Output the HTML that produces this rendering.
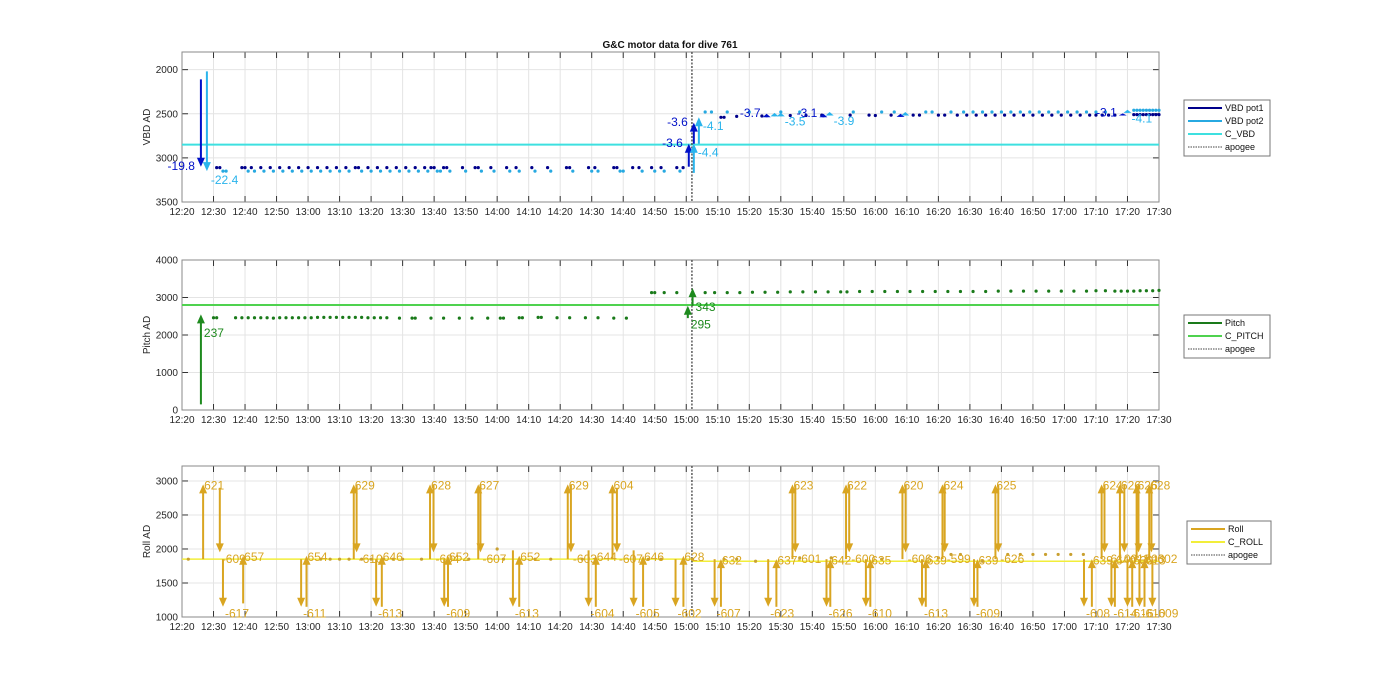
<!DOCTYPE html>
<html><head><meta charset="utf-8"><title>G&amp;C motor data for dive 761</title>
<style>
html,body{margin:0;padding:0;background:#fff;}
svg{display:block;font-family:"Liberation Sans",Arial,sans-serif;}
</style></head>
<body>
<svg id="chart" width="1400" height="693" viewBox="0 0 1400 693" xmlns="http://www.w3.org/2000/svg">
<text x="670" y="48" text-anchor="middle" font-size="10" font-weight="bold" fill="#111">G&amp;C motor data for dive 761</text>
</svg>
<script>
// ---------- data (minutes since 12:20) ----------
const xTickLabels = ["12:20","12:30","12:40","12:50","13:00","13:10","13:20","13:30","13:40","13:50","14:00","14:10","14:20","14:30","14:40","14:50","15:00","15:10","15:20","15:30","15:40","15:50","16:00","16:10","16:20","16:30","16:40","16:50","17:00","17:10","17:20","17:30"];
const apogeeT = 161.8;

const vbdTicks = [2000,2500,3000,3500];
const cVbd = 2850;
const vbd1DotT = [11,12,19,20,22,25,28,31,34,37,40,43,46,49,52,55,56,59,62,65,68,71,74,77,79,80,83,84,89,93,94,98,103,106,111,116,122,123,129,131,137,138,143,145,149,152,157,159,171,172,176,184,193,198,203,212,218,220,225,232,234,240,242,246,249,252,255,258,261,264,267,270,273,276,279,282,285,288,290,292,294,296,302,303,304,305,306,307,308,309,310];
const vbd1DotV = [3110,3110,3110,3110,3110,3110,3110,3110,3110,3110,3110,3110,3110,3110,3110,3110,3110,3110,3110,3110,3110,3110,3110,3110,3110,3110,3110,3110,3110,3110,3110,3110,3110,3110,3110,3110,3110,3110,3110,3110,3110,3110,3110,3110,3110,3110,3110,3110,2540,2540,2530,2525,2520,2520,2515,2515,2515,2520,2515,2515,2515,2515,2515,2515,2515,2515,2515,2515,2515,2515,2515,2515,2515,2515,2515,2515,2515,2515,2515,2515,2515,2515,2510,2510,2510,2510,2510,2510,2510,2510,2510];
const vbd2DotT = [13,14,21,23,26,29,32,35,38,41,44,47,50,53,57,60,63,66,69,72,75,78,81,82,85,90,95,99,104,107,112,117,124,130,132,139,140,146,150,153,158,166,168,173,180,190,196,213,222,226,236,238,244,248,251,254,257,260,263,266,269,272,275,278,281,284,287,290,293,302,303,304,305,306,307,308,309,310];
const vbd2DotV = [3150,3150,3150,3150,3150,3150,3150,3150,3150,3150,3150,3150,3150,3150,3150,3150,3150,3150,3150,3150,3150,3150,3150,3150,3150,3150,3150,3150,3150,3150,3150,3150,3150,3150,3150,3150,3150,3150,3150,3150,3150,2480,2480,2480,2480,2480,2480,2480,2480,2480,2480,2480,2480,2480,2480,2480,2480,2480,2480,2480,2480,2480,2480,2480,2480,2480,2480,2480,2480,2460,2460,2460,2460,2460,2460,2460,2460,2460];
const vbd1ArrT = [6,160.8,162.4,185.5,203.5,228,298.5];
const vbd1ArrFrom = [2110,3100,2840,2540,2540,2535,2520];
const vbd1ArrTo = [3100,2840,2600,2500,2500,2500,2495];
const vbd1ArrLbl = ["-19.8","-3.6","-3.6","-3.7","-3.1","","-3.1"];
const vbd2ArrT = [7.9,162.4,164,188,190,205.5,229.5,300];
const vbd2ArrFrom = [2020,3170,2840,2530,2530,2520,2520,2490];
const vbd2ArrTo = [3150,2840,2540,2490,2490,2480,2480,2455];
const vbd2ArrLbl = ["-22.4","-4.4","-4.1","","-3.5","-3.9","","-4.1"];

const pitchTicks = [0,1000,2000,3000,4000];
const cPitch = 2800;
const pitchDotT = [10,11,17,19,21,23,25,27,29,31,33,35,37,39,41,43,45,47,49,51,53,55,57,59,61,63,65,69,73,74,79,83,88,92,97,101,102,107,108,113,114,119,123,128,132,137,141,149,150,153,157,162,166,169,173,177,181,185,189,193,197,201,205,209,211,215,219,223,227,231,235,239,243,247,251,255,259,263,267,271,275,279,283,287,290,293,296,298,300,302,304,306,308,310];
const pitchDotV = [2460,2460,2460,2460,2460,2460,2460,2460,2450,2460,2460,2460,2460,2460,2460,2470,2470,2470,2470,2470,2470,2470,2470,2460,2460,2460,2460,2450,2450,2450,2450,2450,2450,2450,2450,2450,2450,2460,2460,2470,2470,2460,2460,2460,2460,2450,2450,3130,3130,3130,3130,3130,3130,3130,3130,3130,3140,3140,3140,3150,3150,3150,3150,3150,3150,3160,3160,3160,3160,3160,3160,3160,3160,3160,3160,3160,3170,3170,3170,3170,3170,3170,3170,3170,3180,3180,3170,3170,3170,3170,3180,3180,3180,3190];
const pitchArrT = [6,160.5,162];
const pitchArrFrom = [150,2450,2780];
const pitchArrTo = [2550,2780,3250];
const pitchArrLbl = ["237","295","343"];

const rollTicks = [1000,1500,2000,2500,3000];
const cRollT = [0,apogeeT,apogeeT,310];
const cRollV = [1850,1850,1820,1820];
const rollDotT = [2,44,47,50,53,57,60,64,67,70,76,91,100,102,112,117,127,148,152,162,172,176,182,196,206,222,240,244,247,254,262,266,270,274,278,282,286];
const rollDotV = [1850,1850,1850,1850,1850,1850,1850,1850,1850,1850,1850,1850,2000,1850,1850,1850,1850,1850,1850,1850,1850,1850,1820,1870,1870,1850,1870,1920,1920,1820,1920,1920,1920,1920,1920,1920,1920];
const rollArrT = [6.7,12,13,19.4,37.8,39.5,54.5,55.4,61.6,63.4,78.7,79.8,83.2,84.4,94,94.7,105,107,122.4,123.4,129,131.3,136.6,138,143.3,146.3,156.6,159.1,169,171,186,188.6,193.7,194.6,204.5,205.7,210.7,211.7,217,218.4,228.6,229.6,234.8,236,241.3,242,251.3,252.4,258.1,259,286.2,288.7,291.8,292.7,294.9,296,297.6,299,300,301.5,302.9,303.5,303.8,305.4,306.9,307.6,307.9];
const rollArrFrom = [1850,2900,1850,1200,1850,1150,1850,2950,1850,1150,1850,2950,1850,1150,1850,2950,1980,1150,1850,2950,1980,1150,1850,2900,1980,1150,1850,1150,1850,1150,1850,1150,1850,2950,1850,1150,1850,2950,1850,1150,1850,2950,1850,1150,1850,2950,1850,1150,1850,2950,1850,1150,1850,2950,1850,1150,1850,2950,1850,1150,1850,2950,1850,1150,1850,2950,1850];
const rollArrTo = [2950,1950,1150,1900,1150,1900,2950,1950,1150,1900,2950,1950,1150,1900,2950,1950,1150,1900,2950,1950,1150,1900,2950,1950,1150,1900,1150,1900,1150,1850,1150,1850,2950,1950,1150,1850,2950,1950,1150,1850,2950,1950,1150,1850,2950,1950,1150,1850,2950,1950,1150,1850,2950,1950,1150,1850,2950,1950,1150,1850,2950,1950,1150,1850,2950,1950,1150];
const rollArrLbl = ["621","-609","-617","657","-611","654","629","-610","-613","646","628","-604","-609","652","627","-607","-613","652","629","-603","-604","644","604","-607","-605","646","-602","628","-607","632","-623","637","623","-601","-626","642","622","-600","-610","635","620","-606","-613","639","624","-599","-609","639","625","-626","-608","639","624","-610","-614","640","626","-611","-616","630","626","-603","-610","613","628","-602","-609"];

// ---------- drawing ----------
const svg = document.getElementById('chart');
const NS = 'http://www.w3.org/2000/svg';
const X0 = 182, X1 = 1159, TSPAN = 310;
function xs(t){ return X0 + t*(X1-X0)/TSPAN; }
function mk(tag, attrs, parent){
  const e = document.createElementNS(NS, tag);
  for (const k in attrs) e.setAttribute(k, attrs[k]);
  (parent||svg).appendChild(e);
  return e;
}
function yScale(top,bottom,vmin,vmax,rev){
  return v => rev ? top + (v-vmin)/(vmax-vmin)*(bottom-top) : bottom - (v-vmin)/(vmax-vmin)*(bottom-top);
}
function axes(g, top, bottom, ys, ticks, ylabel, nm){
  const grid = mk('g', {}, g);
  
  
  for (let i=0;i<xTickLabels.length;i++){
    const x = xs(i*10);
    mk('line',{x1:x,x2:x,y1:top,y2:bottom,stroke:'#e4e4e4','stroke-width':1},grid);
    mk('line',{x1:x,x2:x,y1:bottom,y2:bottom-6,stroke:'#333','stroke-width':1},grid);
    mk('line',{x1:x,x2:x,y1:top,y2:top+6,stroke:'#333','stroke-width':1},grid);
    const tl = mk('text',{x:x,y:bottom+13,'text-anchor':'middle','font-size':10,fill:'#262626'},g);
    tl.textContent = xTickLabels[i];
    
    
  }
  ticks.forEach(v=>{
    const y = ys(v);
    mk('line',{x1:X0,x2:X1,y1:y,y2:y,stroke:'#e4e4e4','stroke-width':1},grid);
    mk('line',{x1:X0,x2:X0+6,y1:y,y2:y,stroke:'#333'},grid);
    mk('line',{x1:X1,x2:X1-6,y1:y,y2:y,stroke:'#333'},grid);
    const tl = mk('text',{x:X0-4,y:y+3.5,'text-anchor':'end','font-size':10,fill:'#262626'},g);
    tl.textContent = v;
    
    
  });
  const fr = mk('rect',{x:X0,y:top,width:X1-X0,height:bottom-top,fill:'none',stroke:'#8a8a8a','stroke-width':1},g);
  
  
  const yl = mk('text',{x:0,y:0,'text-anchor':'middle','font-size':10,fill:'#262626',transform:`translate(150,${(top+bottom)/2}) rotate(-90)`},g);
  yl.textContent = ylabel;
  
  
}
function apogeeLine(g, top, bottom){
  const l = mk('line',{x1:xs(apogeeT),x2:xs(apogeeT),y1:top,y2:bottom,stroke:'#444','stroke-width':1.3,'stroke-dasharray':'2,1.5'},g);
  
  
}
function hline(g, v, ys, color, w, nm){
  const l = mk('line',{x1:X0,x2:X1,y1:ys(v),y2:ys(v),stroke:color,'stroke-width':w},g);
  
  
}
function dots(g, T, V, ys, color, nm){
  for (let i=0;i<T.length;i++){
    const c = mk('circle',{cx:xs(T[i]),cy:ys(V[i]),r:1.6,fill:color},g);
    
    
  }
}
function arrow(g, t, v0, v1, ys, color, nm){
  const x = xs(t), y0 = ys(v0), y1 = ys(v1);
  const dir = y1 < y0 ? -1 : 1;
  const hl = Math.min(9, Math.abs(y1-y0));
  const a = mk('g',{},g);
  
  
  mk('line',{x1:x,x2:x,y1:y0,y2:y1 - dir*hl*0.6,stroke:color,'stroke-width':2},a);
  mk('polygon',{points:`${x-4},${y1-dir*hl} ${x+4},${y1-dir*hl} ${x},${y1}`,fill:color},a);
  return {x:x,y:y1,dir:dir};
}
function label(g, x, y, txt, color, anchor, base, nm){
  if (!txt) return;
  const t = mk('text',{x:x,y:y,'text-anchor':anchor,'dominant-baseline':base,'font-size':12,fill:color},g);
  t.textContent = txt;
  
  
}
function legend(x, y, w, entries, nm){
  const g = mk('g',{});
  
  
  const h = entries.length*13 + 4;
  mk('rect',{x:x,y:y,width:w,height:h,fill:'#fff',stroke:'#777','stroke-width':1},g);
  entries.forEach((e,i)=>{
    const yy = y + 8 + i*13;
    const ln = mk('line',{x1:x+4,x2:x+38,y1:yy,y2:yy,stroke:e[1],'stroke-width':e[2]},g);
    if (e[3]) ln.setAttribute('stroke-dasharray', e[3]);
    const t = mk('text',{x:x+41,y:yy+3,'font-size':9,fill:'#111'},g);
    t.textContent = e[0];
    
    
  });
}

// ---------- Panel 1: VBD ----------
(function(){
  const top=52,bottom=202;
  const ys = yScale(top,bottom,1800,3500,true);
  const g = mk('g',{});
  
  
  axes(g,top,bottom,ys,vbdTicks,'VBD AD','vbd');
  hline(g,cVbd,ys,'#3de0e0',2,'c-vbd-line');
  apogeeLine(g,top,bottom);
  dots(g,vbd1DotT,vbd1DotV,ys,'#00008b','vbd-pot1-point');
  dots(g,vbd2DotT,vbd2DotV,ys,'#27a9e1','vbd-pot2-point');
  for (let i=0;i<vbd1ArrT.length;i++){
    const a = arrow(g,vbd1ArrT[i],vbd1ArrFrom[i],vbd1ArrTo[i],ys,'#0010c8','vbd-pot1-arrow');
    label(g,a.x-6,a.y,vbd1ArrLbl[i],'#0010c8','end','middle','vbd-pot1-label');
  }
  for (let i=0;i<vbd2ArrT.length;i++){
    const a = arrow(g,vbd2ArrT[i],vbd2ArrFrom[i],vbd2ArrTo[i],ys,'#2ab4ec','vbd-pot2-arrow');
    label(g,a.x+4,a.y+4,vbd2ArrLbl[i],'#2ab4ec','start','hanging','vbd-pot2-label');
  }
  legend(1184,100,86,[["VBD pot1","#00008b",2],["VBD pot2","#27a9e1",2],["C_VBD","#3de0e0",2],["apogee","#444",1,"1.5,1"]],'vbd-legend');
})();

// ---------- Panel 2: Pitch ----------
(function(){
  const top=260,bottom=410;
  const ys = yScale(top,bottom,0,4000,false);
  const g = mk('g',{});
  
  
  axes(g,top,bottom,ys,pitchTicks,'Pitch AD','pitch');
  hline(g,cPitch,ys,'#4fd24f',2,'c-pitch-line');
  apogeeLine(g,top,bottom);
  dots(g,pitchDotT,pitchDotV,ys,'#1a7a1a','pitch-point');
  for (let i=0;i<pitchArrT.length;i++){
    const a = arrow(g,pitchArrT[i],pitchArrFrom[i],pitchArrTo[i],ys,'#1e8a1e','pitch-arrow');
    label(g,a.x+3,a.y+14,pitchArrLbl[i],'#1e8a1e','start','hanging','pitch-label');
  }
  legend(1184,315,86,[["Pitch","#1a7a1a",2],["C_PITCH","#4fd24f",2],["apogee","#444",1,"1.5,1"]],'pitch-legend');
})();

// ---------- Panel 3: Roll ----------
(function(){
  const top=466,bottom=617;
  const ys = yScale(top,bottom,1000,3220,false);
  const g = mk('g',{});
  
  
  axes(g,top,bottom,ys,rollTicks,'Roll AD','roll');
  const pts = cRollT.map((t,i)=>xs(t)+','+ys(cRollV[i])).join(' ');
  const cl = mk('polyline',{points:pts,fill:'none',stroke:'#f2ee3a','stroke-width':1.5},g);
  
  
  apogeeLine(g,top,bottom);
  dots(g,rollDotT,rollDotV,ys,'#c9a030','roll-point');
  for (let i=0;i<rollArrT.length;i++){
    const a = arrow(g,rollArrT[i],rollArrFrom[i],rollArrTo[i],ys,'#d9a521','roll-arrow');
    if (a.dir<0) label(g,a.x+1,a.y+2,rollArrLbl[i],'#d9a521','start','middle','roll-label');
    else label(g,a.x+2,a.y+2,rollArrLbl[i],'#d9a521','start','hanging','roll-label');
  }
  legend(1187,521,84,[["Roll","#d9a521",2],["C_ROLL","#f2ee3a",2],["apogee","#444",1,"1.5,1"]],'roll-legend');
})();
</script>
</body></html>
